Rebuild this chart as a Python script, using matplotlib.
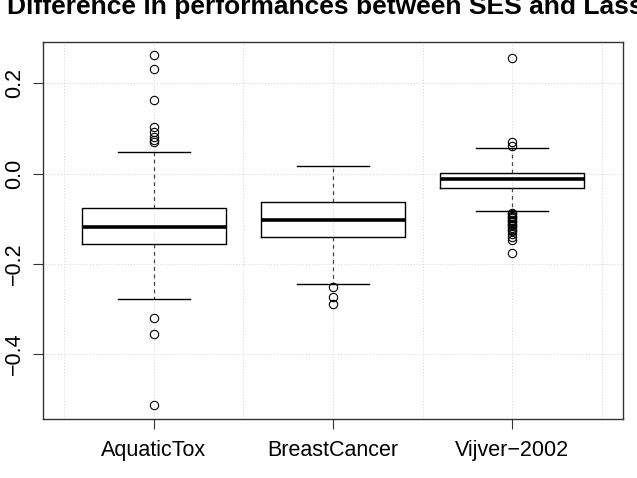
import matplotlib
matplotlib.use("Agg")
from matplotlib import pyplot as plt

plt.rcParams['font.family'] = ['Liberation Sans', 'DejaVu Sans']

# data
names = ["AquaticTox", "BreastCancer", "Vijver\u22122002"]
whislo = [-0.278, -0.244, -0.084]
q1 = [-0.156, -0.140, -0.033]
med = [-0.118, -0.102, -0.011]
q3 = [-0.076, -0.064, 0.002]
whishi = [0.047, 0.016, 0.056]
fliers_aquatic = [0.262, 0.231, 0.162, 0.104, 0.093, 0.082, 0.074, 0.070,
                  -0.320, -0.356, -0.513]
fliers_breast = [-0.251, -0.273, -0.289]
fliers_vijver = [0.256, 0.069, 0.062,
                 -0.087, -0.090, -0.093, -0.096, -0.099, -0.102, -0.105,
                 -0.108, -0.111, -0.114, -0.117, -0.120, -0.124, -0.128,
                 -0.133, -0.140, -0.147, -0.176]
fliers = [fliers_aquatic, fliers_breast, fliers_vijver]

stats = []
for i in range(len(names)):
    stats.append(dict(label=names[i], whislo=whislo[i], q1=q1[i], med=med[i],
                      q3=q3[i], whishi=whishi[i], fliers=fliers[i]))

fig = plt.figure(figsize=(6.37, 4.78), dpi=100)
ax = fig.add_axes([43 / 637, 1 - 419 / 478, 580 / 637, 377 / 478])

# R-style grid() on pretty ticks
for gx in [0.5, 1.0, 1.5, 2.0, 2.5, 3.0, 3.5]:
    ax.axvline(gx, color="#d3d3d3", lw=0.7, ls=(0, (1, 2)), zorder=0)
for gy in [-0.4, -0.2, 0.0, 0.2]:
    ax.axhline(gy, color="#d3d3d3", lw=0.7, ls=(0, (1, 2)), zorder=0)

ax.bxp(stats, positions=[1, 2, 3], widths=0.8, capwidths=0.4,
       boxprops=dict(color="black", lw=1.0),
       medianprops=dict(color="black", lw=2.6, solid_capstyle="butt"),
       whiskerprops=dict(color="#444444", lw=0.9, ls=(0, (3, 3))),
       capprops=dict(color="black", lw=1.0),
       flierprops=dict(marker="o", markersize=6, markerfacecolor="none",
                       markeredgecolor="black", markeredgewidth=0.8))

ax.set_xlim(0.38, 3.62)
ax.set_ylim(-0.544, 0.2916)
ax.set_yticks([-0.4, -0.2, 0.0, 0.2])
ax.set_yticklabels(["\u22120.4", "\u22120.2", "0.0", "0.2"], rotation=90, va="center")
ax.tick_params(axis="both", labelsize=15.5, length=7, width=0.8, color="#333333")
ax.tick_params(axis="x", pad=8)
ax.tick_params(axis="y", pad=6)
for s in ax.spines.values():
    s.set_color("#333333")
    s.set_linewidth(1.0)

ax.set_title("Difference in performances between SES and Lasso",
             fontsize=19, fontweight="bold", pad=20)

fig.savefig("out.png", dpi=100)
